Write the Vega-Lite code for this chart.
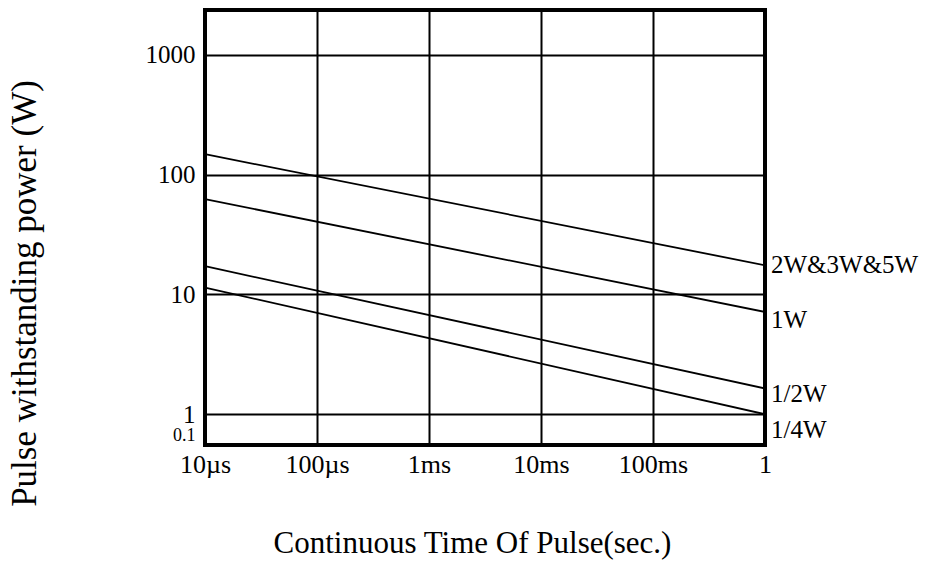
{
  "$schema": "https://vega.github.io/schema/vega-lite/v6.json",
  "width": 560,
  "height": 435,
  "autosize": "none",
  "padding": {"left": 205, "top": 10, "right": 160, "bottom": 122},
  "background": "white",
  "config": {
    "view": {"stroke": "black", "strokeWidth": 4},
    "font": "Liberation Serif"
  },
  "datasets": {
    "lines": [
      {"series": "2W&3W&5W", "t": 0.00001, "p": 148},
      {"series": "2W&3W&5W", "t": 1, "p": 17.5},
      {"series": "1W", "t": 0.00001, "p": 62.4},
      {"series": "1W", "t": 1, "p": 7.13},
      {"series": "1/2W", "t": 0.00001, "p": 17.2},
      {"series": "1/2W", "t": 1, "p": 1.64},
      {"series": "1/4W", "t": 0.00001, "p": 11.4},
      {"series": "1/4W", "t": 1, "p": 1.0}
    ],
    "labels": [
      {"label": "2W&3W&5W", "t": 1, "p": 17.6},
      {"label": "1W", "t": 1, "p": 6.11},
      {"label": "1/2W", "t": 1, "p": 1.46},
      {"label": "1/4W", "t": 1, "p": 0.738}
    ]
  },
  "layer": [
    {
      "data": {"name": "lines"},
      "mark": {"type": "line", "color": "black", "strokeWidth": 1.8},
      "encoding": {
        "x": {
          "field": "t",
          "type": "quantitative",
          "scale": {"type": "log", "domain": [0.00001, 1], "nice": false},
          "axis": {
            "values": [0.00001, 0.0001, 0.001, 0.01, 0.1, 1],
            "labelExpr": "datum.value < 0.00005 ? '10µs' : datum.value < 0.0005 ? '100µs' : datum.value < 0.005 ? '1ms' : datum.value < 0.05 ? '10ms' : datum.value < 0.5 ? '100ms' : '1'",
            "ticks": false,
            "domain": false,
            "grid": true,
            "gridColor": "black",
            "gridWidth": 2,
            "gridOpacity": 1,
            "labelFont": "Liberation Serif",
            "labelFontSize": 26,
            "labelColor": "black",
            "labelPadding": 6,
            "labelFlush": false,
            "labelOverlap": false,
            "title": "Continuous Time Of Pulse(sec.)",
            "titleFont": "Liberation Serif",
            "titleFontSize": 31,
            "titleFontWeight": "normal",
            "titleColor": "black",
            "titlePadding": 51,
            "titleX": 267
          }
        },
        "y": {
          "field": "p",
          "type": "quantitative",
          "scale": {"type": "log", "domain": [0.553, 2366], "nice": false},
          "axis": {
            "values": [0.66, 1, 10, 100, 1000],
            "labelExpr": "datum.value < 0.9 ? '0.1' : format(datum.value, 'd')",
            "ticks": false,
            "domain": false,
            "grid": true,
            "gridColor": "black",
            "gridWidth": 2,
            "gridOpacity": {"condition": {"test": "datum.value < 0.9", "value": 0}, "value": 1},
            "labelFont": "Liberation Serif",
            "labelFontSize": {"condition": {"test": "datum.value < 0.9", "value": 18}, "value": 25},
            "labelColor": "black",
            "labelPadding": 10,
            "labelOverlap": false,
            "title": "Pulse withstanding power (W)",
            "titleFont": "Liberation Serif",
            "titleFontSize": 35,
            "titleFontWeight": "normal",
            "titleColor": "black",
            "titleAngle": -90,
            "titleBaseline": "middle",
            "titleAlign": "center",
            "titleX": -181,
            "titleY": 283
          }
        },
        "detail": {"field": "series", "type": "nominal"}
      }
    },
    {
      "data": {"name": "labels"},
      "mark": {"type": "text", "align": "left", "baseline": "middle", "dx": 6, "fontSize": 25, "font": "Liberation Serif", "color": "black", "clip": false},
      "encoding": {
        "x": {"field": "t", "type": "quantitative"},
        "y": {"field": "p", "type": "quantitative"},
        "text": {"field": "label"}
      }
    }
  ]
}
